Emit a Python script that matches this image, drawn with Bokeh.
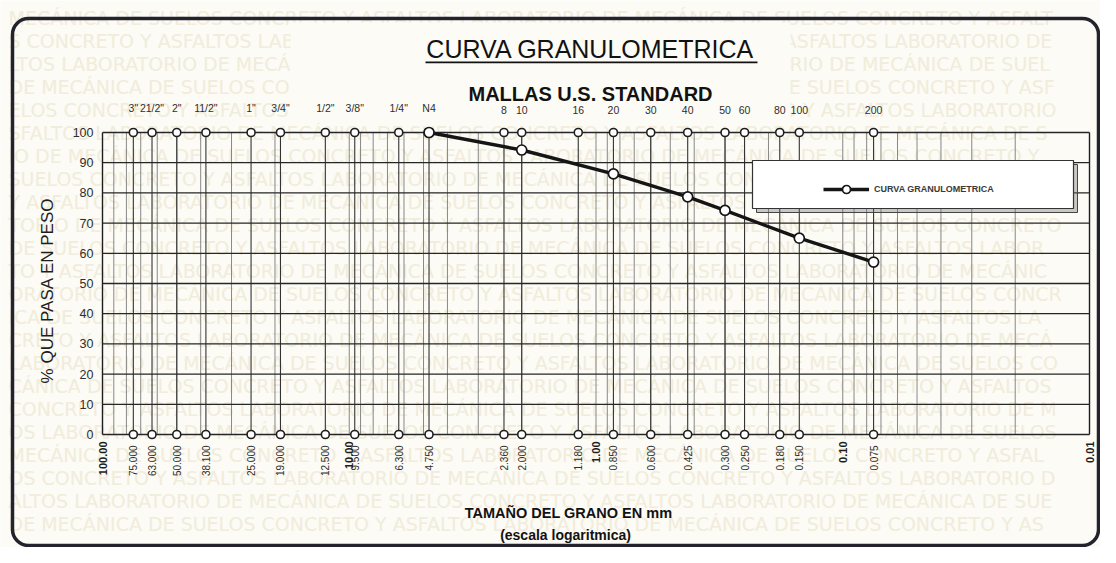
import math
from bokeh.plotting import figure
from bokeh.models import Range1d, Label, BoxAnnotation, Legend, LegendItem
from bokeh.core.properties import value
from bokeh.embed import file_html
from bokeh.resources import INLINE

# ---------------- data ----------------
SIEVE_NAMES = ['3"', '21/2"', '2"', '11/2"', '1"', '3/4"', '1/2"', '3/8"', '1/4"', 'N4',
               '8', '10', '16', '20', '30', '40', '50', '60', '80', '100', '200']
SIEVE_MM = [75.0, 63.0, 50.0, 38.1, 25.0, 19.0, 12.5, 9.5, 6.3, 4.75,
            2.36, 2.0, 1.18, 0.85, 0.6, 0.425, 0.3, 0.25, 0.18, 0.15, 0.075]
SIEVE_LABELS = ["75.000", "63.000", "50.000", "38.100", "25.000", "19.000", "12.500", "9.500",
                "6.300", "4.750", "2.360", "2.000", "1.180", "0.850", "0.600", "0.425", "0.300",
                "0.250", "0.180", "0.150", "0.075"]
DECADE_MM = [100, 10, 1, 0.1, 0.01]
DECADE_LABELS = ["100.00", "10.00", "1.00", "0.10", "0.01"]
Y_TICKS = [0, 10, 20, 30, 40, 50, 60, 70, 80, 90, 100]
CURVE_MM = [4.75, 2.0, 0.85, 0.425, 0.3, 0.15, 0.075]
CURVE_PASS = [100, 94.2, 86.3, 78.7, 74.2, 65.0, 57.1]
SERIES_NAME = "CURVA GRANULOMETRICA"
WATERMARK = "MECÁNICA DE SUELOS CONCRETO Y ASFALTOS LABORATORIO DE "

X_HI, X_LO = 100, 0.01
Y_LO, Y_HI = 0, 100

# ---------------- layout ----------------
W, H = 1100, 547
LEFT_PX, RIGHT_PX = 102, 1089   # pixels of X_HI and X_LO from left
PX_DEC = (RIGHT_PX - LEFT_PX) / (math.log10(X_HI) - math.log10(X_LO))
TOP_PX, BOT_PX = 132, 434
PPU = (BOT_PX - TOP_PX) / (Y_HI - Y_LO)

x_start = 10 ** (math.log10(X_HI) + LEFT_PX / PX_DEC)
x_end = 10 ** (math.log10(X_HI) - (W - LEFT_PX) / PX_DEC)
y_end = Y_HI + TOP_PX / PPU
y_start = Y_LO - (H - BOT_PX) / PPU

PAPER = "#fcfbf5"
INK = "#1e1e1e"
FONT_NAME = "Liberation Sans"
FONT = value(FONT_NAME)

p = figure(width=W, height=H, x_axis_type="log", x_axis_location=None, y_axis_location=None,
           x_range=Range1d(x_start, x_end), y_range=Range1d(y_start, y_end),
           output_backend="svg", toolbar_location=None, min_border=0)
p.outline_line_color = None
p.background_fill_color = PAPER
p.border_fill_color = PAPER
p.xgrid.visible = False
p.ygrid.visible = False

box_kw = dict(left_units="screen", right_units="screen", top_units="screen",
              bottom_units="screen")

# faint background watermark of the paper (each row kept inside the page)
wm_long = WATERMARK * 4
for i, ty in enumerate(range(H - 6, 20, -23)):
    start = (i * 17) % len(WATERMARK)
    p.add_layout(Label(x=8, y=ty, x_units="screen", y_units="screen",
                       text=wm_long[start:start + 90], text_align="left", text_baseline="top",
                       text_font_size="19px", text_font="DejaVu Sans",
                       text_color="#f1ecdb", level="underlay"))
p.add_layout(BoxAnnotation(left=290, right=790, top=H - 22, bottom=H - 122, fill_color=PAPER,
                           fill_alpha=1, line_alpha=0, level="underlay", **box_kw))

# minor log grid
minor = []
for k in range(int(math.log10(X_LO)), int(math.log10(X_HI))):
    for m in range(1, 10):
        v = m * 10 ** k
        if X_LO < v < X_HI:
            minor.append(v)
p.segment(x0=minor, x1=minor, y0=[Y_LO] * len(minor), y1=[Y_HI] * len(minor),
          line_color="#7a7a7a", line_width=0.9)

# sieve lines
p.segment(x0=SIEVE_MM, x1=SIEVE_MM, y0=[Y_LO] * len(SIEVE_MM), y1=[Y_HI] * len(SIEVE_MM),
          line_color="#333333", line_width=1.1)
# frame verticals
p.segment(x0=[X_HI, X_LO], x1=[X_HI, X_LO], y0=[Y_LO, Y_LO], y1=[Y_HI, Y_HI],
          line_color=INK, line_width=1.4)
# horizontal lines
p.segment(x0=[X_HI] * len(Y_TICKS), x1=[X_LO] * len(Y_TICKS), y0=Y_TICKS, y1=Y_TICKS,
          line_color="#262626", line_width=1.3)

# sieve markers top & bottom
n = len(SIEVE_MM)
p.scatter(SIEVE_MM, [Y_HI] * n, marker="circle", size=8, fill_color="white",
          line_color=INK, line_width=1.6)
p.scatter(SIEVE_MM, [Y_LO] * n, marker="circle", size=8, fill_color="white",
          line_color=INK, line_width=1.6)

# sieve names above
p.text(x=SIEVE_MM, y=[Y_HI] * n, text=SIEVE_NAMES, y_offset=-19, text_align="center",
       text_baseline="bottom", text_font_size="10.5px", text_font=FONT, text_color="#2e2e2e")

# size labels below (rotated)
p.text(x=SIEVE_MM, y=[Y_LO] * n, text=SIEVE_LABELS, angle=math.pi / 2, y_offset=11,
       text_align="right", text_baseline="middle", text_font_size="10px", text_font=FONT,
       text_color="#2e2e2e")
p.text(x=DECADE_MM, y=[Y_LO] * len(DECADE_MM), text=DECADE_LABELS, angle=math.pi / 2, y_offset=7,
       text_align="right", text_baseline="middle", text_font_size="11px", text_font=FONT,
       text_font_style="bold", text_color=INK)

# y tick labels
p.text(x=[X_HI] * len(Y_TICKS), y=Y_TICKS, text=[str(t) for t in Y_TICKS], x_offset=-9,
       text_align="right", text_baseline="middle", text_font_size="12.5px", text_font=FONT,
       text_color="#2e2e2e")

# curve
curve_line = p.line(CURVE_MM, CURVE_PASS, line_width=3.4, line_color="#151515")
curve_pts = p.scatter(CURVE_MM, CURVE_PASS, marker="circle", size=10, fill_color="white",
                      line_color="#151515", line_width=1.7)

# legend box with shadow
p.add_layout(BoxAnnotation(left=756, right=1077, top=383, bottom=335, fill_color="#666666",
                           fill_alpha=0.35, line_color="#444444", line_alpha=1, line_width=1,
                           level="annotation", **box_kw))
p.add_layout(BoxAnnotation(left=752, right=1073, top=387, bottom=339, fill_color="white",
                           fill_alpha=1, line_color="#333333", line_alpha=1, line_width=1.2,
                           level="annotation", **box_kw))
legend = Legend(items=[LegendItem(label=SERIES_NAME, renderers=[curve_line, curve_pts])],
                location=(823, 348), padding=0, margin=0, border_line_color=None,
                background_fill_alpha=0, glyph_width=46, glyph_height=20, label_standoff=5,
                label_text_font_size="9px", label_text_font=FONT_NAME,
                label_text_font_style="bold", label_text_color="#3a3a3a")
p.add_layout(legend)

# titles
p.add_layout(Label(x=590, y=499, x_units="screen", y_units="screen", text="CURVA GRANULOMETRICA",
                   text_align="center", text_baseline="middle", text_font_size="25px",
                   text_font=FONT_NAME, text_color="#121212"))
p.add_layout(BoxAnnotation(left=425, right=757, top=486, bottom=484.3, fill_color="#121212",
                           fill_alpha=1, line_color=None, level="annotation", **box_kw))
p.add_layout(Label(x=590, y=454, x_units="screen", y_units="screen", text="MALLAS U.S. STANDARD",
                   text_align="center", text_baseline="middle", text_font_size="20px",
                   text_font=FONT_NAME, text_font_style="bold", text_color="#121212"))
p.add_layout(Label(x=568, y=35, x_units="screen", y_units="screen", text="TAMAÑO DEL GRANO EN mm",
                   text_align="center", text_baseline="middle", text_font_size="14.5px",
                   text_font=FONT_NAME, text_font_style="bold", text_color="#121212"))
p.add_layout(Label(x=565, y=13, x_units="screen", y_units="screen", text="(escala logaritmica)",
                   text_align="center", text_baseline="middle", text_font_size="14px",
                   text_font=FONT_NAME, text_font_style="bold", text_color="#121212"))
p.add_layout(Label(x=47, y=257, x_units="screen", y_units="screen", text="% QUE PASA EN PESO",
                   angle=math.pi / 2, text_align="center", text_baseline="middle",
                   text_font_size="17px", text_font=FONT_NAME, text_color="#1e1e1e"))

# outer rounded border
p.add_layout(BoxAnnotation(left=12, right=1098, top=529, bottom=2, fill_alpha=0,
                           line_color="#23232e", line_alpha=1, line_width=3.5,
                           border_radius=16, level="annotation", **box_kw))

open("out.html", "w").write(file_html(p, INLINE))
